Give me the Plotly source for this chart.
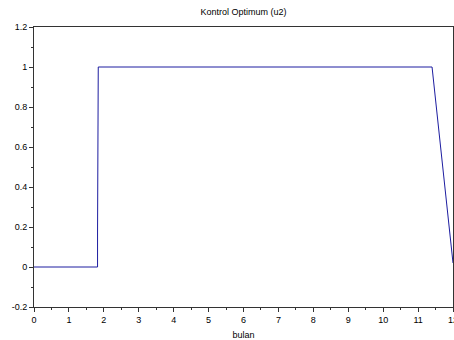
import plotly.graph_objects as go

bulan = [0, 1.82, 1.82, 1.84, 11.4, 12.0]
u2 = [0, 0, 0.18, 1, 1, 0.02]

x_ticks = list(range(0, 13))
y_ticks = [-0.2, 0, 0.2, 0.4, 0.6, 0.8, 1.0, 1.2]
y_labels = ["-0.2", "0", "0.2", "0.4", "0.6", "0.8", "1", "1.2"]

fig = go.Figure()
fig.add_trace(go.Scatter(x=bulan, y=u2, mode="lines",
                         line=dict(color="#1c1ca0", width=1), showlegend=False))

font = dict(family="Liberation Sans, Arial, sans-serif", size=9, color="#000000")
fig.update_layout(
    width=454, height=340,
    margin=dict(l=34, r=1, t=27, b=33, autoexpand=False),
    paper_bgcolor="white", plot_bgcolor="white",
    font=font,
    title=dict(text="Kontrol Optimum (u2)", x=0.5, xref="paper", xanchor="center",
               y=1, yref="container", yanchor="top", pad=dict(t=9),
               font=dict(family="Liberation Sans, Arial, sans-serif", size=9, color="#000")),
)
fig.update_xaxes(
    range=[0, 12], tickvals=x_ticks, ticktext=[str(v) for v in x_ticks],
    showgrid=False, zeroline=False, showline=True, linecolor="#333", linewidth=1,
    mirror=True, ticks="outside", ticklen=4, tickcolor="#333",
    minor=dict(dtick=0.5, ticks="outside", ticklen=2, tickcolor="#333", showgrid=False),
    title=dict(text="bulan", standoff=8, font=dict(size=9)),
    tickfont=dict(size=9), ticklabeloverflow="allow", automargin=False,
)
fig.update_yaxes(
    range=[-0.2, 1.2], tickvals=y_ticks, ticktext=y_labels,
    showgrid=False, zeroline=False, showline=True, linecolor="#333", linewidth=1,
    mirror=True, ticks="outside", ticklen=4, tickcolor="#333",
    minor=dict(dtick=0.1, ticks="outside", ticklen=2, tickcolor="#333", showgrid=False),
    tickfont=dict(size=9), automargin=False,
)
fig.write_html("out.html")
